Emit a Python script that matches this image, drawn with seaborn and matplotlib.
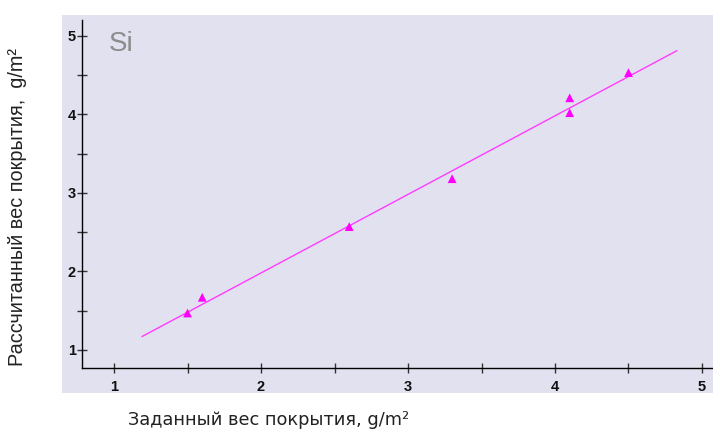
import numpy as np
import matplotlib
matplotlib.use("Agg")
import matplotlib.pyplot as plt
import matplotlib.ticker as mticker
from matplotlib.patches import Rectangle
import seaborn as sns

# measured points (set vs calculated coating weight)
set_weight = [1.5, 1.6, 2.6, 3.3, 4.1, 4.1, 4.5]
calc_weight = [1.47, 1.67, 2.57, 3.18, 4.21, 4.02, 4.53]

# regression line endpoints
fit_x = [1.19, 4.83]
fit_y = [1.17, 4.81]

x_ticks = [1, 2, 3, 4, 5]
y_ticks = [1, 2, 3, 4, 5]

sns.set_style("white")
plt.rcParams['font.family'] = ['DejaVu Sans']

W, H = 713, 433
fig = plt.figure(figsize=(W / 100, H / 100), dpi=100)
fig.patch.set_facecolor('white')

# lavender panel behind the plot area
fig.patches.append(Rectangle((62 / W, (H - 393) / H), 1 - 62 / W, (393 - 15) / H,
                             transform=fig.transFigure, facecolor='#e2e1f0',
                             edgecolor='none', zorder=-5))

ax = fig.add_axes([82 / W, (H - 368) / H, (W - 82) / W, (368 - 20) / H])
ax.patch.set_alpha(0)
ax.set_zorder(2)

sns.lineplot(x=fit_x, y=fit_y, ax=ax, color='#ff3cff', linewidth=1.0)
sns.scatterplot(x=set_weight, y=calc_weight, ax=ax, marker='^', color='#ff00ff',
                s=40, edgecolor='none', zorder=3)

ax.set_xlim(0.782, 5.075)
ax.set_ylim(0.77, 5.20)

for side in ['top', 'right']:
    ax.spines[side].set_visible(False)
for side in ['left', 'bottom']:
    ax.spines[side].set_color('black')
    ax.spines[side].set_linewidth(1.0)

ax.xaxis.set_major_locator(mticker.FixedLocator(x_ticks))
ax.yaxis.set_major_locator(mticker.FixedLocator(y_ticks))
ax.xaxis.set_minor_locator(mticker.MultipleLocator(0.5))
ax.yaxis.set_minor_locator(mticker.MultipleLocator(0.5))
ax.tick_params(which='both', direction='inout', length=7, width=1, color='#333333',
               bottom=True, left=True)
ax.tick_params(axis='x', which='major', pad=5)
ax.tick_params(axis='y', which='major', pad=1)
ax.set_xticklabels([str(t) for t in x_ticks], fontsize=10.5, fontweight='bold',
                   family='Liberation Sans', color='#111111')
ax.set_yticklabels([str(t) for t in y_ticks], fontsize=10.5, fontweight='bold',
                   family='Liberation Sans', color='#111111')

fig.text(109 / W, (H - 44) / H, 'Si', fontsize=20,
         color='#8c8c8c', ha='left', va='center', family='Liberation Sans')

fig.text(128 / W, (H - 420) / H, 'Заданный вес покрытия, g/m²', fontsize=12.8,
         ha='left', va='center', color='#222222', family='DejaVu Sans')
fig.text(18 / W, (H - 207) / H, 'Рассчитанный вес покрытия,  g/m²', fontsize=14.3,
         rotation=90, ha='center', va='center', color='#222222', family='Liberation Sans')

fig.savefig('out.png', dpi=100)
